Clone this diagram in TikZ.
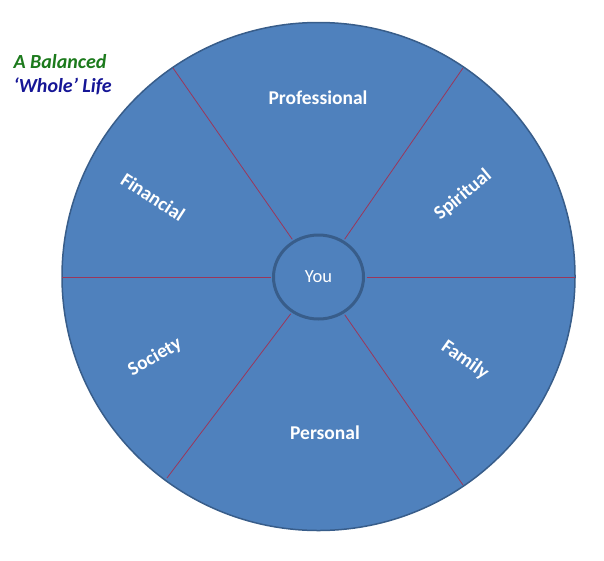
\documentclass[tikz,border=0pt]{standalone}
\usepackage{fontspec}
\setmainfont{Carlito}
\usetikzlibrary{shapes.geometric}
\definecolor{wheelblue}{HTML}{4F81BD}
\definecolor{wheeledge}{HTML}{385D8A}
\definecolor{spokered}{RGB}{155,55,90}
\definecolor{titlegreen}{RGB}{28,122,28}
\definecolor{titleblue}{RGB}{22,22,150}
\tikzset{
  rim/.style={draw=wheeledge, line width=1.5pt, fill=wheelblue},
  hub/.style={ellipse, draw=wheeledge, line width=3pt, fill=wheelblue,
    minimum width=90pt, minimum height=84pt, inner sep=0pt, text=white,
    font=\fontsize{18.5}{21}\selectfont},
  spoke/.style={draw=spokered, line width=0.8pt, shorten <=1.5pt},
  area/.style={text=white, font=\fontsize{19.5}{22}\selectfont\bfseries},
  title/.style={anchor=west, font=\fontsize{20}{23}\selectfont\bfseries\itshape}
}
\begin{document}
\begin{tikzpicture}[x=1pt, y=-1pt]
  % the frame
  \useasboundingbox (0,0) rectangle (604,560);
  % the title
  \node[title, text=titlegreen] (balanced) at (10,62) {A Balanced};
  \node[title, text=titleblue] (whole) at (10,86) {‘Whole’ Life};
  % the wheel
  \draw[rim] (318.5,276.5) ellipse [x radius=256.5, y radius=254];
  % the hub
  \node[hub] (you) at (318.5,277) {You};
  % the rim points
  \coordinate (east) at (575,277);
  \coordinate (west) at (62,277);
  \coordinate (nw) at (173,68);
  \coordinate (ne) at (463,68);
  \coordinate (sw) at (167,478);
  \coordinate (se) at (463,485);
  % the spokes
  \foreach \rimpt in {east,west,nw,ne,sw,se}
    \draw[spoke] (you) -- (\rimpt);

  % labels
  \node[area] (professional) at (318,98) {Professional};
  \node[area, rotate=40] (spiritual) at (463,195) {Spiritual};
  \node[area, rotate=-35] (family) at (465,360) {Family};
  \node[area] (personal) at (325,433) {Personal};
  \node[area, rotate=30] (society) at (155,357) {Society};
  \node[area, rotate=-33] (financial) at (153,197) {Financial};
\end{tikzpicture}
\end{document}
